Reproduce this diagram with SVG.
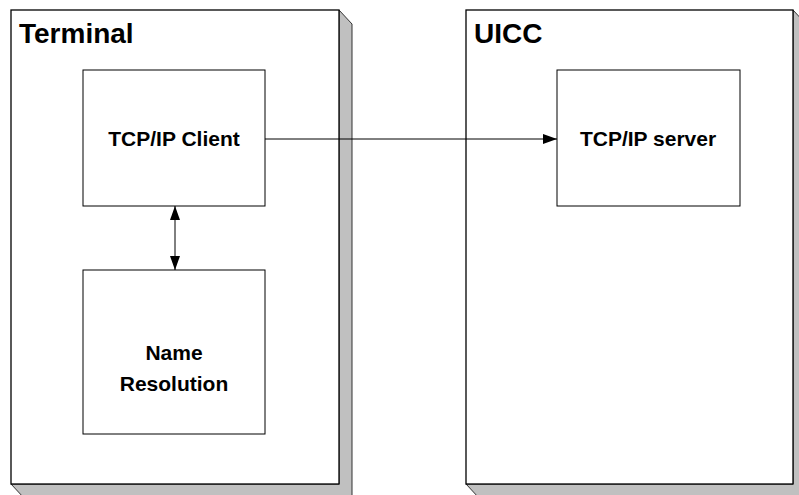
<svg xmlns="http://www.w3.org/2000/svg" width="799" height="495" viewBox="0 0 799 495">
<defs>
<style>
.shadow{fill:#c0c0c0;stroke:#333;stroke-width:1}
.outer{fill:#fff;stroke:#000;stroke-width:1.3}
.box{fill:#fff;stroke:#000;stroke-width:1}
.title{font-family:"Liberation Sans",Arial,sans-serif;font-weight:bold;font-size:28px;fill:#000}
.lbl{font-family:"Liberation Sans",Arial,sans-serif;font-weight:bold;font-size:21px;fill:#000;text-anchor:middle}
.conn{stroke:#000;stroke-width:1;fill:none}
</style>
<marker id="ah" viewBox="0 0 14 10" refX="14" refY="5" markerWidth="14" markerHeight="10" orient="auto-start-reverse" markerUnits="userSpaceOnUse">
<path d="M0,0 L14,5 L0,10 z" fill="#000"/>
</marker>
</defs>
<rect width="799" height="495" fill="#fff"/>
<g id="terminal">
<polygon class="shadow" points="339,10 352,24 352,498 24,498 11,484 339,484"/>
<rect class="outer" x="11" y="10" width="328" height="474"/>
<text class="title" x="19" y="43">Terminal</text>
</g>
<g id="uicc">
<polygon class="shadow" points="793,10 806,24 806,498 479,498 466,484 793,484"/>
<rect class="outer" x="466" y="10" width="327" height="474"/>
<text class="title" x="474" y="43">UICC</text>
</g>
<g id="tcpip-client">
<rect class="box" x="83" y="70" width="182" height="136"/>
<text class="lbl" x="174" y="146">TCP/IP Client</text>
</g>
<g id="name-resolution">
<rect class="box" x="83" y="270" width="182" height="164"/>
<text class="lbl" x="174" y="360">Name</text>
<text class="lbl" x="174" y="391">Resolution</text>
</g>
<g id="tcpip-server">
<rect class="box" x="557" y="70" width="183" height="136"/>
<text class="lbl" x="648" y="146">TCP/IP server</text>
</g>
<g id="connectors">
<line class="conn" x1="265" y1="139" x2="557" y2="139" marker-end="url(#ah)"/>
<line class="conn" x1="175" y1="206" x2="175" y2="270" marker-start="url(#ah)" marker-end="url(#ah)"/>
</g>
</svg>
